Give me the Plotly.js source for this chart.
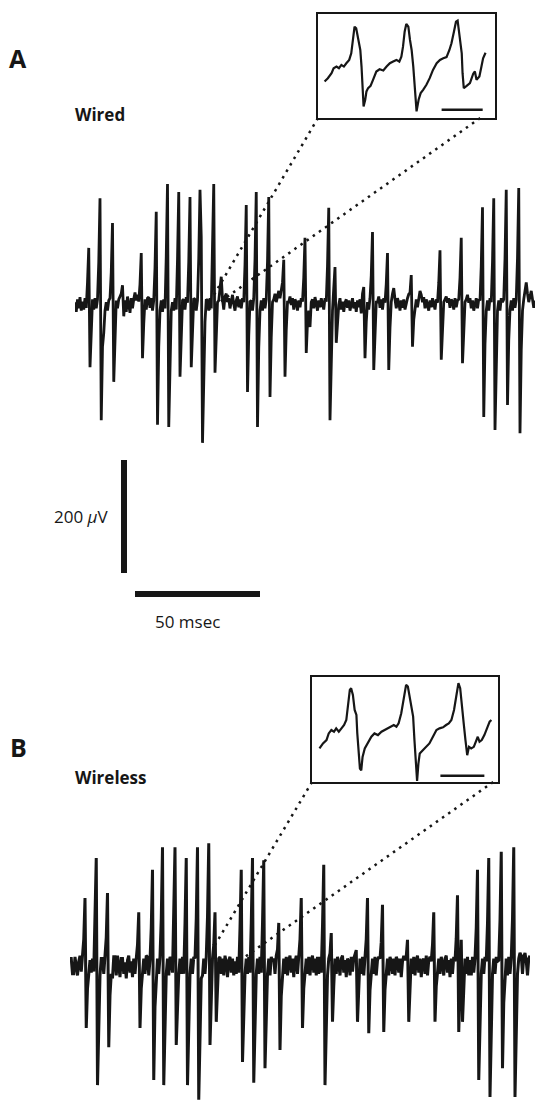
<!DOCTYPE html>
<html>
<head>
<meta charset="utf-8">
<script src="https://cdn.plot.ly/plotly-3.0.1.min.js"></script>
<style>
  html, body { margin: 0; padding: 0; background: #fff; }
  #chart { width: 535px; height: 1106px; }
</style>
</head>
<body>
<div id="chart"></div>
<script>
// ---------------- DATA ----------------
// Sample interval of the read-off traces (ms)
const sampleMs = 0.5;

// Panel A: wired recording (µV), one value every 0.5 ms
const wiredUV = [
  5, -12, 10, -6, 14, -10, 6, -8, 12, -5,
  40, 101, -110, -38, 10, -8, 12, -6, 10, 75,
  189, -204, -74, -50, -10, 5, -10, 8, 12, 58,
  145, -136, -45, 8, -6, 10, 15, 20, 35, -20,
  8, -12, 15, -4, -14, 12, -6, 10, 22, 8,
  18, 6, 37, 92, -94, -33, 10, -8, 12, 14,
  -5, 12, -10, 8, 66, 165, -212, -74, -10, 8,
  -12, 10, -6, 86, 214, -216, -76, -10, 5, -10,
  12, -8, 80, 200, -127, -44, 8, 10, -8, 14,
  4, 76, 191, -110, -38, 12, 10, -10, 8, 82,
  204, 120, -244, -120, -30, 10, 8, -10, 12, -6,
  86, 214, -120, -42, 5, 8, 25, 50, 10, -8,
  15, 20, 5, 12, -6, 10, 18, 2, -10, 8,
  15, -4, 10, -6, 12, 5, 71, 177, -154, -54,
  6, 8, -10, 12, 80, 200, -216, -76, -10, 8,
  -10, 12, -6, 10, 76, 191, -163, -57, 5, 10,
  20, 5, 15, 25, 12, 28, 40, 80, -127, -44,
  5, 5, 15, 0, 12, -8, 10, 4, -10, 8,
  -4, 12, 6, 48, 119, -85, -30, -10, -39, 5,
  10, -6, 14, 3, -10, 8, -4, 12, 2, -8,
  12, 6, 69, 172, -204, -71, -10, 30, 67, -67,
  -23, 0, 12, -8, 6, -12, 4, 10, -5, 8,
  -10, 3, 12, -6, 5, -12, 8, -4, 10, -15,
  20, 32, -94, -30, 5, -8, 12, 52, 129, -115,
  -40, 5, 5, 15, -5, 10, -8, 12, 4, 37,
  92, -115, -40, 5, 20, 30, 10, -6, 12, 4,
  -10, 8, -5, 10, -8, 4, 12, 19, 22, 53,
  -74, -26, -10, 10, -4, 12, 25, 18, 5, 14,
  -6, 10, 2, -10, 8, -4, 12, 0, -8, 10,
  4, 39, 97, -97, -34, 5, 10, 15, 4, 12,
  -5, 10, 6, -8, 12, -4, 8, 10, 48, 119,
  -103, -36, 5, 10, 18, 4, 12, -6, 8, -10,
  5, 12, -6, 10, 8, 69, 173, -198, -69, -10,
  8, -10, 12, 5, 76, 189, -221, -77, -10, 8,
  -10, 12, 5, 10, 82, 204, -177, -62, -8, 8,
  -10, 12, -5, 10, 83, 207, -227, -79, -10, 10,
  25, 40, 20, 5, 15, 25, 10, -5, 8
];

// Panel B: wireless recording (µV), one value every 0.5 ms
const wirelessUV = [
  15, 15, -12, -12, 18, 5, -15, 10, 20, -8,
  15, 49, 122, -108, -38, -12, 12, -10, 15, -8,
  77, 193, -209, -73, -15, 15, 15, -12, 18, 52,
  131, -142, -50, -12, -20, 18, 18, -15, 20, 5,
  -18, 15, 15, -12, 8, -20, 12, 20, -10, 10,
  -18, 15, -12, 15, 39, 97, -108, -38, -15, 15,
  -12, 20, 18, -15, 12, 69, 172, -200, -70, -12,
  15, -12, 18, 85, 212, -209, -73, -12, 15, -15,
  18, 12, -10, 85, 212, -138, -48, -12, 15, -12,
  18, -12, 77, 193, -209, -73, -12, 15, -12, 18,
  15, 85, 212, -235, -82, -20, -15, 15, -12, 18,
  88, 219, -138, -48, 15, 39, 97, -97, -34, 15,
  18, -12, 15, -15, 20, 8, -18, 12, 18, -10,
  15, -15, 10, -12, 18, -10, 69, 172, -168, -59,
  -12, 15, -12, 18, -10, 77, 193, -205, -72, -12,
  15, -12, 18, -10, 76, 189, -179, -63, -12, 15,
  -15, 18, 10, 15, -12, 20, 31, 78, -147, -51,
  -12, 15, -12, 18, -15, 12, 20, -10, 15, -18,
  10, 20, -12, 15, 49, 122, -108, -38, -15, 15,
  -12, 18, -15, 12, 20, -10, 15, -15, 18, -12,
  18, -10, 72, 181, -209, -73, -15, 15, 24, 60,
  -97, -34, 15, -12, 18, 5, -15, 15, 20, -10,
  12, -18, 15, 10, -15, 18, -8, 15, 22, 30,
  -97, -34, 15, -12, 18, -15, 12, 49, 122, -117,
  -41, -12, 15, -12, 18, -15, 12, 18, 15, 44,
  110, -115, -40, -12, 15, -15, 18, 10, -12, 15,
  -15, 18, 12, -10, 15, -18, 10, 20, 12, 19,
  48, -97, -34, 15, -12, 18, -15, 12, 20, -10,
  15, -18, 10, 15, -12, 20, -15, 12, 18, 10,
  39, 97, -97, -34, -10, 15, -12, 18, 5, -15,
  15, 20, -10, 12, -18, 15, -12, 18, 10, 51,
  127, -115, -30, 48, -97, -34, 15, -12, 18, -15,
  12, -15, 18, -10, 15, 69, 172, -200, -70, -12,
  15, -12, 18, 10, 77, 193, -230, -80, -12, 15,
  -12, 18, 10, 12, 82, 204, -179, -63, -12, 15,
  -15, 18, -12, 15, 85, 212, -230, -80, -12, 15,
  25, 20, -12, 18, 25, 10, -15, 15, 20
];

// Inset A (expanded view of three spikes): time (ms) and amplitude (µV, relative)
const insetA_ms = [0.16,0.24,0.33,0.38,0.45,0.51,0.57,0.63,0.69,0.76,0.81,0.85,0.89,0.93,0.99,1.03,1.06,1.08,1.11,1.15,1.18,1.22,1.28,1.34,1.42,1.50,1.59,1.67,1.75,1.83,1.91,1.98,2.03,2.07,2.11,2.15,2.20,2.24,2.28,2.32,2.36,2.40,2.45,2.50,2.56,2.64,2.72,2.80,2.89,2.97,3.05,3.13,3.20,3.25,3.31,3.36,3.40,3.44,3.47,3.50,3.52,3.55,3.62,3.70,3.78,3.82,3.86,3.93,3.98,4.02,4.08];
const insetA_uV = [-27,-21,-12,-3,0,-3,3,0,6,12,24,48,72,69,48,30,0,-36,-72,-60,-45,-39,-35,-24,-9,-5,-7,0,6,9,12,9,18,36,63,77,72,48,30,0,-48,-81,-60,-48,-42,-33,-21,-6,6,12,15,17,30,42,63,81,83,63,42,24,-12,-39,-35,-30,-13,-9,-24,-18,0,15,25];

// Inset B
const insetB_ms = [0.17,0.25,0.33,0.38,0.44,0.50,0.55,0.61,0.67,0.73,0.78,0.82,0.86,0.89,0.93,0.97,1.01,1.03,1.06,1.09,1.12,1.15,1.20,1.27,1.35,1.42,1.50,1.58,1.65,1.73,1.80,1.86,1.92,1.97,2.03,2.09,2.14,2.18,2.22,2.26,2.30,2.33,2.37,2.39,2.42,2.45,2.52,2.60,2.67,2.75,2.83,2.90,2.98,3.05,3.11,3.17,3.23,3.28,3.33,3.37,3.41,3.45,3.49,3.53,3.57,3.62,3.68,3.73,3.77,3.81,3.86,3.92,3.98,4.04,4.08];
const insetB_uV = [-34,-25,-19,-7,-1,-4,2,-4,2,8,17,41,71,74,62,35,26,-7,-43,-70,-73,-49,-34,-25,-13,-7,-10,-4,-1,2,5,8,5,11,29,56,80,77,59,35,23,-19,-61,-92,-61,-43,-37,-31,-25,-13,-1,2,4,8,11,17,35,59,83,74,47,11,-19,-46,-31,-34,-31,-19,-13,-22,-19,-10,2,14,17];

// Scale bars
const scaleBarUV = 200;     // vertical bar, µV
const scaleBarMs = 50;      // horizontal bar, ms
const insetScaleMs = 1;     // inset time bar, ms

// Labels
const panelLabels = ['A', 'B'];
const traceLabels = ['Wired', 'Wireless'];
const ampLabel = '200 <i>μ</i>V';
const timeLabel = '50 msec';

// Zoom connectors: [inset point (ms, µV), trace point (ms, µV)]
const connectorsA = [[[0, -93], [54.8, 12]], [[3.95, -93], [54.0, -7]]];
const connectorsB = [[[0, -94], [58, 39]], [[4.12, -94], [70, 18]]];

// ---------------- LAYOUT ----------------
const W = 535, H = 1106;
const ink = '#161616';
const font = 'Open Sans, Lato, sans-serif';

const ax = {
  x:  {domain: [75/W, 1], range: [0, 184]},
  y:  {domain: [1 - 600/H, 1 - 150/H], range: [-522.1, 274.3]},
  x2: {domain: [70/W, 530/W], range: [0, 184]},
  y2: {domain: [0, 1 - 820/H], range: [-246, 260.2]},
  x3: {domain: [318/W, 495/W], range: [0, 4.31]},
  y3: {domain: [1 - 118/H, 1 - 14/H], range: [-93, 95]},
  x4: {domain: [312/W, 498/W], range: [0, 4.23]},
  y4: {domain: [1 - 782/H, 1 - 677/H], range: [-94, 94]}
};
function toPaper(a, v) {
  const d = ax[a].domain, r = ax[a].range;
  return d[0] + (v - r[0]) / (r[1] - r[0]) * (d[1] - d[0]);
}

const timeA = wiredUV.map((_, i) => i * sampleMs);
const timeB = wirelessUV.map((_, i) => i * sampleMs);

// scale bar placement (in panel A units)
const vBarT = 19.6, vBarBottom = -474.3;
const hBarT0 = 24, hBarV = -511.5;
const insetBarA = {t0: 3.01, v: -78};
const insetBarB = {t0: 2.92, v: -83};

const traces = [
  {x: timeA, y: wiredUV, xaxis: 'x', yaxis: 'y', mode: 'lines',
   line: {color: ink, width: 2.8}},
  {x: timeB, y: wirelessUV, xaxis: 'x2', yaxis: 'y2', mode: 'lines',
   line: {color: ink, width: 3}},
  {x: insetA_ms, y: insetA_uV, xaxis: 'x3', yaxis: 'y3', mode: 'lines',
   line: {color: ink, width: 2.2}},
  {x: insetB_ms, y: insetB_uV, xaxis: 'x4', yaxis: 'y4', mode: 'lines',
   line: {color: ink, width: 2.2}},
  // amplitude scale bar
  {x: [vBarT, vBarT], y: [vBarBottom, vBarBottom + scaleBarUV], xaxis: 'x', yaxis: 'y',
   mode: 'lines', line: {color: ink, width: 6}},
  // time scale bar
  {x: [hBarT0, hBarT0 + scaleBarMs], y: [hBarV, hBarV], xaxis: 'x', yaxis: 'y',
   mode: 'lines', line: {color: ink, width: 6}},
  // inset time bars
  {x: [insetBarA.t0, insetBarA.t0 + insetScaleMs], y: [insetBarA.v, insetBarA.v],
   xaxis: 'x3', yaxis: 'y3', mode: 'lines', line: {color: ink, width: 2.5}},
  {x: [insetBarB.t0, insetBarB.t0 + insetScaleMs], y: [insetBarB.v, insetBarB.v],
   xaxis: 'x4', yaxis: 'y4', mode: 'lines', line: {color: ink, width: 2.5}}
];

function hidden(a) {
  return Object.assign({}, ax[a], {visible: false, fixedrange: true});
}
function boxed(a, anchor) {
  return Object.assign({}, ax[a], {
    anchor: anchor, showline: true, mirror: true, linewidth: 2, linecolor: ink,
    showgrid: false, zeroline: false, showticklabels: false, ticks: '', fixedrange: true
  });
}

const shapes = [];
function addConnectors(list, ix, iy, tx, ty) {
  list.forEach(([p, q]) => {
    shapes.push({
      type: 'line', xref: 'paper', yref: 'paper',
      x0: toPaper(ix, p[0]), y0: toPaper(iy, p[1]),
      x1: toPaper(tx, q[0]), y1: toPaper(ty, q[1]),
      line: {color: ink, width: 2.5, dash: '2.5px,5px'}
    });
  });
}
addConnectors(connectorsA, 'x3', 'y3', 'x', 'y');
addConnectors(connectorsB, 'x4', 'y4', 'x2', 'y2');

const annotations = [
  {text: panelLabels[0], xref: 'paper', yref: 'paper', x: 18/W, y: 1 - 58/H,
   xanchor: 'center', yanchor: 'middle', showarrow: false,
   font: {family: font, size: 25, color: ink, weight: 700}},
  {text: traceLabels[0], xref: 'paper', yref: 'paper', x: 73/W, y: 1 - 114/H,
   xanchor: 'left', yanchor: 'middle', showarrow: false,
   font: {family: font, size: 17, color: ink, weight: 700}},
  {text: panelLabels[1], xref: 'paper', yref: 'paper', x: 18/W, y: 1 - 747/H,
   xanchor: 'center', yanchor: 'middle', showarrow: false,
   font: {family: font, size: 25, color: ink, weight: 700}},
  {text: traceLabels[1], xref: 'paper', yref: 'paper', x: 73/W, y: 1 - 777/H,
   xanchor: 'left', yanchor: 'middle', showarrow: false,
   font: {family: font, size: 17, color: ink, weight: 700}},
  {text: ampLabel, xref: 'x', yref: 'y', x: vBarT, y: vBarBottom + scaleBarUV / 2,
   xanchor: 'right', yanchor: 'middle', xshift: -14, showarrow: false,
   font: {family: font, size: 17, color: ink}},
  {text: timeLabel, xref: 'x', yref: 'y', x: hBarT0 + scaleBarMs / 2 - 4, y: hBarV,
   xanchor: 'center', yanchor: 'top', yshift: -14, showarrow: false,
   font: {family: font, size: 17, color: ink}}
];

const layout = {
  width: W, height: H,
  margin: {l: 0, r: 0, t: 0, b: 0, pad: 0},
  paper_bgcolor: '#fff', plot_bgcolor: 'rgba(0,0,0,0)',
  showlegend: false,
  xaxis: Object.assign(hidden('x'), {anchor: 'y'}),
  yaxis: Object.assign(hidden('y'), {anchor: 'x'}),
  xaxis2: Object.assign(hidden('x2'), {anchor: 'y2'}),
  yaxis2: Object.assign(hidden('y2'), {anchor: 'x2'}),
  xaxis3: boxed('x3', 'y3'), yaxis3: boxed('y3', 'x3'),
  xaxis4: boxed('x4', 'y4'), yaxis4: boxed('y4', 'x4'),
  shapes: shapes,
  annotations: annotations
};

Plotly.newPlot('chart', traces, layout, {staticPlot: true, displayModeBar: false});
</script>
</body>
</html>
